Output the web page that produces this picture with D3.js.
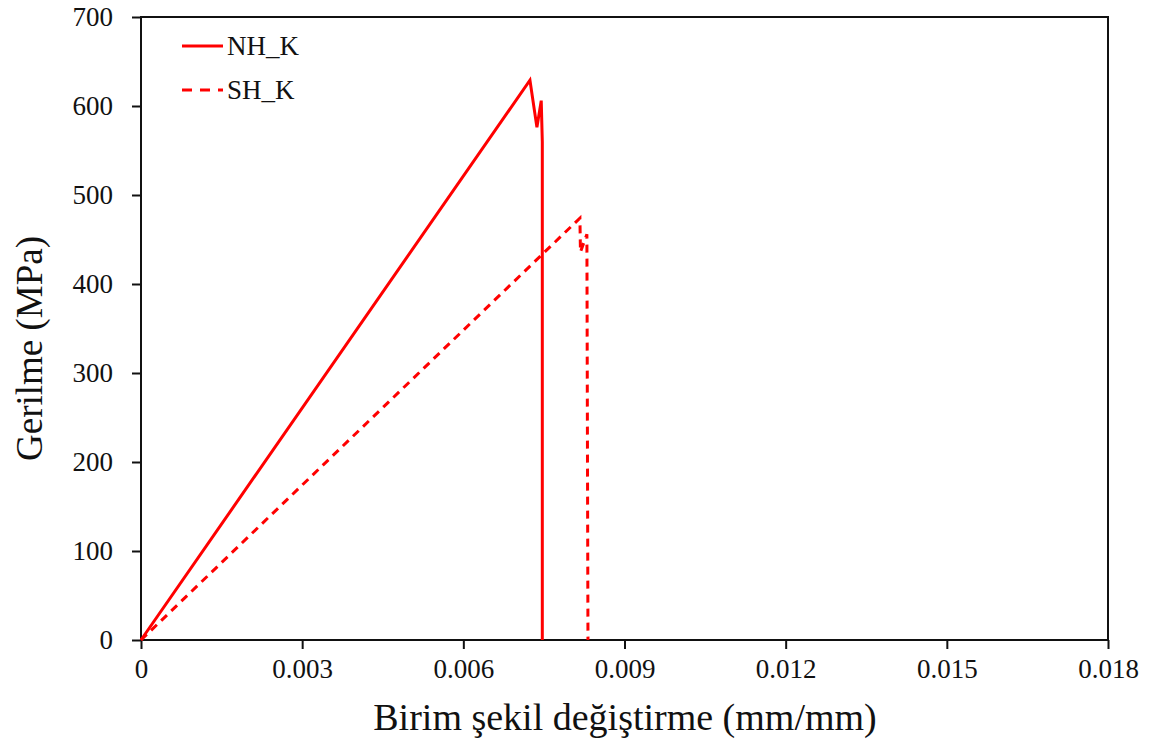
<!DOCTYPE html>
<html>
<head>
<meta charset="utf-8">
<script src="https://cdn.jsdelivr.net/npm/d3@7"></script>
<style>
  body { margin: 0; background: #fff; }
  text { font-family: "Liberation Serif", "Times New Roman", serif; fill: #111; }
</style>
</head>
<body>
<div id="chart"></div>
<script>
// strain (mm/mm) and stress (MPa)
const nhStrain = [0, 0.00724, 0.00737, 0.00745, 0.00747, 0.00747];
const nhStress = [0, 629, 576, 606, 560, 0];
const shStrain = [0, 0.00817, 0.00818, 0.00830, 0.00832];
const shStress = [0, 474, 436, 456, 0];

const xTicks = [0, 0.003, 0.006, 0.009, 0.012, 0.015, 0.018];
const yTicks = [0, 100, 200, 300, 400, 500, 600, 700];

const series = [
    { name: "NH_K", x: nhStrain, y: nhStress, dash: null },
    { name: "SH_K", x: shStrain, y: shStress, dash: "8,6" }
];

const width = 1155;
const height = 749;
const marginTop = 17;
const marginRight = 47;
const marginBottom = 109;
const marginLeft = 141;

const x = d3.scaleLinear()
    .domain([0, 0.018])
    .range([marginLeft, width - marginRight]);

const y = d3.scaleLinear()
    .domain([0, 700])
    .range([height - marginBottom, marginTop]);

const svg = d3.select("#chart")
    .append("svg")
    .attr("width", width)
    .attr("height", height)
    .attr("viewBox", [0, 0, width, height]);

// frame
svg.append("rect")
    .attr("x", marginLeft)
    .attr("y", marginTop)
    .attr("width", width - marginRight - marginLeft)
    .attr("height", height - marginBottom - marginTop)
    .attr("fill", "none")
    .attr("stroke", "#111")
    .attr("stroke-width", 2);

// x axis
svg.append("g")
    .attr("transform", `translate(0,${height - marginBottom})`)
    .call(d3.axisBottom(x).tickValues(xTicks).tickSize(9).tickPadding(10)
        .tickFormat(d => d === 0 ? "0" : d3.format(".3f")(d)))
    .call(g => g.select(".domain").remove())
    .call(g => g.selectAll("line").attr("stroke", "#111").attr("stroke-width", 2))
    .call(g => g.selectAll("text").style("font-size", "27px").attr("fill", "#111"));

// y axis
svg.append("g")
    .attr("transform", `translate(${marginLeft},0)`)
    .call(d3.axisLeft(y).tickValues(yTicks).tickSize(9).tickPadding(19))
    .call(g => g.select(".domain").remove())
    .call(g => g.selectAll("line").attr("stroke", "#111").attr("stroke-width", 2))
    .call(g => g.selectAll("text").style("font-size", "27px").attr("fill", "#111"));

// axis titles
svg.append("text")
    .attr("x", 625)
    .attr("y", 730)
    .attr("text-anchor", "middle")
    .style("font-size", "38px")
    .text("Birim şekil değiştirme (mm/mm)");

svg.append("text")
    .attr("transform", `translate(42,${(marginTop + height - marginBottom) / 2 + 20}) rotate(-90)`)
    .attr("text-anchor", "middle")
    .style("font-size", "37px")
    .text("Gerilme (MPa)");

// curves
const line = d3.line()
    .x(d => x(d[0]))
    .y(d => y(d[1]));

svg.append("g")
    .selectAll("path")
    .data(series)
    .join("path")
    .attr("d", s => line(d3.zip(s.x, s.y)))
    .attr("fill", "none")
    .attr("stroke", "#ff0000")
    .attr("stroke-width", 3)
    .attr("stroke-linejoin", "miter")
    .attr("stroke-dasharray", s => s.dash);

// legend
const legend = svg.append("g")
    .selectAll("g")
    .data(series)
    .join("g")
    .attr("transform", (d, i) => `translate(182,${46 + i * 44})`);

legend.append("line")
    .attr("x1", 0)
    .attr("x2", 41)
    .attr("stroke", "#ff0000")
    .attr("stroke-width", 3)
    .attr("stroke-dasharray", d => d.dash ? "10,8" : null);

legend.append("text")
    .attr("x", 45)
    .attr("dy", "0.35em")
    .style("font-size", "27px")
    .text(d => d.name);
</script>
</body>
</html>
